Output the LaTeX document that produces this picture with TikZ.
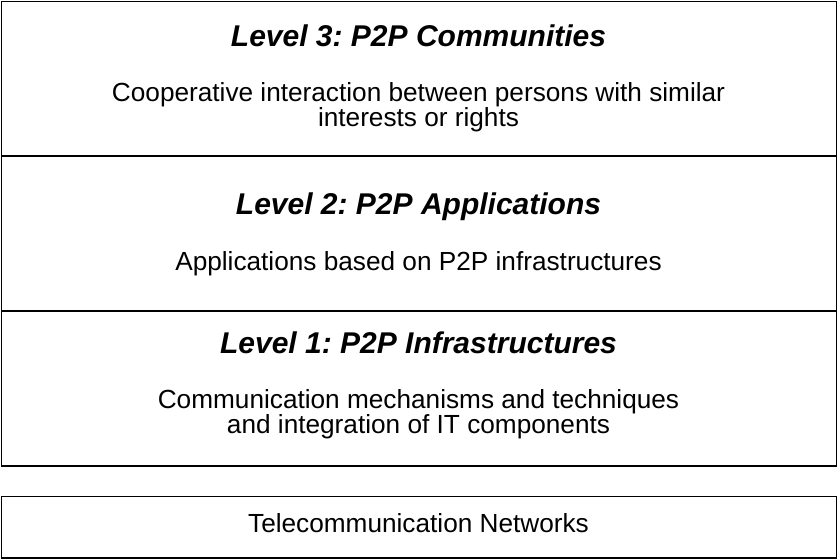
\documentclass[tikz,border=0pt]{standalone}
\usepackage{fontspec}
\setmainfont{Liberation Sans}
\frenchspacing
\begin{document}
\begin{tikzpicture}[x=1pt,y=-1pt,
  layerbox/.style={draw,line width=1.5pt,rectangle,inner sep=0pt,anchor=north west},
  heading/.style={anchor=base,inner sep=0pt,font=\fontsize{30}{34}\selectfont\bfseries\itshape},
  body/.style={anchor=base,inner sep=0pt,align=center,font=\fontsize{26.2}{25}\selectfont}]
  \useasboundingbox (0,0) rectangle (837,558);
  % layer boxes
  \node[layerbox,minimum width=835.5pt,minimum height=154.5pt] (b3) at (0.75,0.75) {};
  \node[layerbox,minimum width=835.5pt,minimum height=155pt] (b2) at (0.75,155.25) {};
  \node[layerbox,minimum width=835.5pt,minimum height=155pt] (b1) at (0.75,310.25) {};
  \node[layerbox,minimum width=835.5pt,minimum height=61.5pt] (net) at (0.75,495.5) {};
  % level 3 (two-line texts are placed by the baseline of their last line)
  \node[heading] (h3) at (418.5,46) {Level 3: P2P Communities};
  \node[body] (t3) at (418.5,126) {Cooperative interaction between persons with similar\\interests or rights};
  % level 2
  \node[heading] (h2) at (418.5,214.3) {Level 2: P2P Applications};
  \node[body] (t2) at (418.5,270) {Applications based on P2P infrastructures};
  % level 1
  \node[heading] (h1) at (418.5,353.3) {Level 1: P2P Infrastructures};
  \node[body] (t1) at (418.5,433) {Communication mechanisms and techniques\\and integration of IT components};
  % network layer
  \node[body] (tn) at (418.5,532.7) {Telecommunication Networks};
\end{tikzpicture}
\end{document}
